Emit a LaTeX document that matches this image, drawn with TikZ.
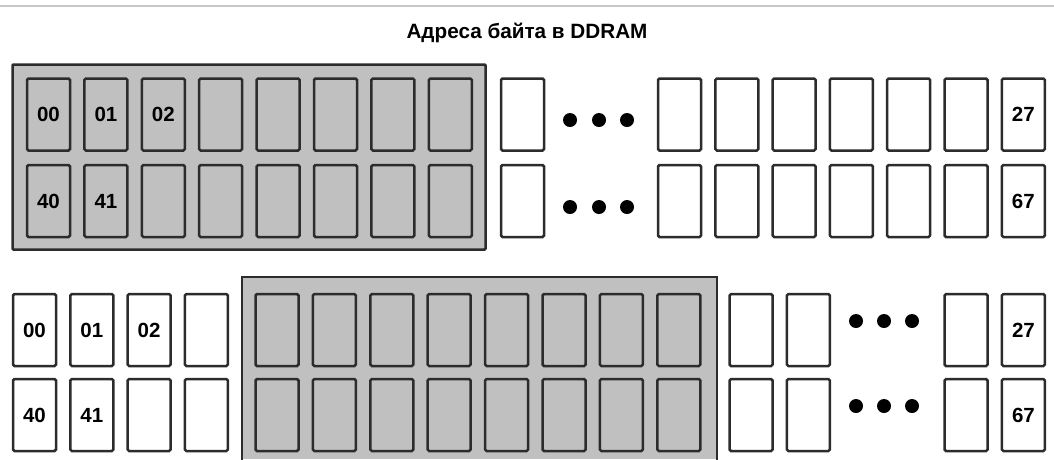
\documentclass[tikz,border=0pt]{standalone}
\usepackage{fontspec}
\setmainfont{Liberation Sans}
\usepackage{xcolor}
\definecolor{cellgrey}{HTML}{C0C0C0}
\definecolor{edgegrey}{HTML}{2C2C2C}
\definecolor{rulegrey}{HTML}{C8C8C8}

\begin{document}
\begin{tikzpicture}[x=1pt, y=-1pt,
  font=\fontsize{20.5}{22}\selectfont\bfseries,
  cell/.style={draw=edgegrey, line width=2.5pt, rounded corners=1.5pt,
               minimum width=43pt, minimum height=72pt, inner sep=0pt},
  greycell/.style={cell, fill=cellgrey},
  whitecell/.style={cell, fill=white},
  frame/.style={draw=edgegrey, line width=2.5pt, rounded corners=1pt, fill=cellgrey},
  dot/.style={circle, fill=black, minimum size=14pt, inner sep=0pt}]
\useasboundingbox (0,0) rectangle (1054,459);
\draw[rulegrey, line width=1.5pt] (0,6) -- (1054,6);
\node[anchor=base, font=\fontsize{20.7}{22}\selectfont\bfseries] (title) at (527,38.5) {Адреса байта в DDRAM};

% upper display window: 00..07 / 40..47
\node[frame, minimum width=473pt, minimum height=185pt] (topframe) at (249,157) {};
\foreach \i in {1,...,8} {
  \node[greycell] (topa\i) at ({48.5+57.4*(\i-1)},114.5) {};
  \node[greycell] (topb\i) at ({48.5+57.4*(\i-1)},201) {};
}
\node[whitecell] (topa9) at (522.5,114.5) {};
\node[whitecell] (topb9) at (522.5,201) {};
\foreach \i in {1,...,7} {
  \node[whitecell] (topar\i) at ({679.5+57.3*(\i-1)},114.5) {};
  \node[whitecell] (topbr\i) at ({679.5+57.3*(\i-1)},201) {};
}
\foreach \x [count=\k] in {570,599,627} {
  \node[dot] (topdota\k) at (\x,120) {};
  \node[dot] (topdotb\k) at (\x,207) {};
}
\node (t00) at (topa1) {00};
\node (t01) at (topa2) {01};
\node (t02) at (topa3) {02};
\node (t40) at (topb1) {40};
\node (t41) at (topb2) {41};
\node (t27) at (topar7) {27};
\node (t67) at (topbr7) {67};

% shifted display window
\fill[cellgrey] (242,277) rectangle (717,459);
\draw[edgegrey, line width=2.5pt] (242,462) |- (717,277) -- (717,462);
\foreach \i in {1,...,4} {
  \node[whitecell] (bota\i) at ({34.5+57.3*(\i-1)},330) {};
  \node[whitecell] (botb\i) at ({34.5+57.3*(\i-1)},415) {};
}
\foreach \i in {1,...,8} {
  \node[greycell] (botag\i) at ({277+57.4*(\i-1)},330) {};
  \node[greycell] (botbg\i) at ({277+57.4*(\i-1)},415) {};
}
\foreach \x [count=\k] in {751,808.4,966,1023.4} {
  \node[whitecell] (botar\k) at (\x,330) {};
  \node[whitecell] (botbr\k) at (\x,415) {};
}
\foreach \x [count=\k] in {856,884,912} {
  \node[dot] (botdota\k) at (\x,321) {};
  \node[dot] (botdotb\k) at (\x,406) {};
}
\node (b00) at (bota1) {00};
\node (b01) at (bota2) {01};
\node (b02) at (bota3) {02};
\node (b40) at (botb1) {40};
\node (b41) at (botb2) {41};
\node (b27) at (botar4) {27};
\node (b67) at (botbr4) {67};
\end{tikzpicture}
\end{document}
